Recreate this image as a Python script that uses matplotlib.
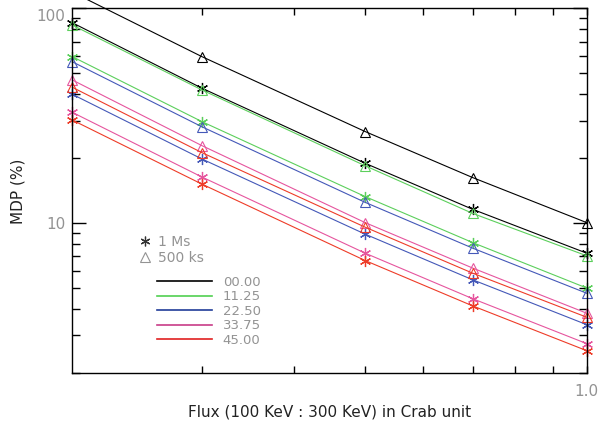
import numpy as np
import matplotlib
matplotlib.use("Agg")
import matplotlib.pyplot as plt
import matplotlib.transforms as mtransforms
from matplotlib.lines import Line2D
from matplotlib.ticker import NullFormatter, FixedLocator, LogLocator

# flux in Crab unit
flux = [0.2, 0.3, 0.5, 0.7, 1.0]

angles = ["00.00", "11.25", "22.50", "33.75", "45.00"]
colors = ["#000000", "#5ccf5c", "#4458b8", "#e6559e", "#ee3c28"]
legend_colors = ["#000000", "#50d050", "#203c98", "#c83c88", "#e02020"]

# MDP (%) for 1 Ms exposure
mdp_1ms = [
    [85.7, 42.5, 19.0, 11.6, 7.25],
    [59.6, 29.7, 13.3, 8.12, 4.99],
    [39.8, 19.9, 8.89, 5.45, 3.37],
    [32.8, 16.4, 7.25, 4.45, 2.75],
    [30.2, 15.2, 6.70, 4.12, 2.55],
]
# MDP (%) for 500 ks exposure
mdp_500ks = [
    [119.0, 59.6, 26.7, 16.3, 10.06],
    [83.6, 41.7, 18.5, 11.1, 7.05],
    [56.4, 28.1, 12.5, 7.65, 4.72],
    [46.4, 22.96, 10.06, 6.18, 3.81],
    [42.9, 21.3, 9.58, 5.85, 3.65],
]

txtgray = "#939393"

fig = plt.figure(figsize=(5.98, 4.21), dpi=100)
ax = fig.add_axes([0.1209, 0.1133, 0.8601, 0.8669])

star = (6, 2, 0)
for i in range(len(angles)):
    ax.plot(flux, mdp_500ks[i], color=colors[i], lw=0.8, marker="^",
            mfc="none", mec=colors[i], ms=7, mew=0.8, clip_on=False)
    ax.plot(flux, mdp_1ms[i], color=colors[i], lw=0.8, marker=star,
            mec=colors[i], ms=8, mew=0.9, clip_on=False)

ax.set_xscale("log")
ax.set_yscale("log")
ax.set_xlim(0.2, 1.0)
ax.set_ylim(2, 100)

ax.xaxis.set_major_locator(FixedLocator([1.0]))
ax.xaxis.set_minor_locator(FixedLocator([0.3, 0.4, 0.5, 0.6, 0.7, 0.8, 0.9]))
ax.set_xticklabels(["1.0"])
ax.xaxis.set_minor_formatter(NullFormatter())

ax.yaxis.set_major_locator(FixedLocator([10, 100]))
ax.yaxis.set_minor_locator(LogLocator(base=10, subs=np.arange(2, 10)))
ax.set_yticklabels(["10", "100"])
ax.yaxis.set_minor_formatter(NullFormatter())

ax.tick_params(which="both", direction="in", top=True, right=True,
               labelsize=11, labelcolor=txtgray, width=1)
ax.tick_params(which="major", length=10)
ax.tick_params(which="minor", length=6)
ax.tick_params(axis="x", which="both", length=5, pad=8)
ax.tick_params(axis="y", pad=5)
for s in ax.spines.values():
    s.set_linewidth(1)

# nudge the top label down a little, like the original
lab100 = ax.get_yticklabels()[1]
lab100.set_transform(lab100.get_transform() +
                     mtransforms.ScaledTranslation(0, -5 / 72, fig.dpi_scale_trans))

ax.set_xlabel("Flux (100 KeV : 300 KeV) in Crab unit", fontsize=11,
              color="#222222", labelpad=4)
ax.set_ylabel("MDP (%)", fontsize=11, color="#222222", labelpad=8)

# exposure legend
h1 = [Line2D([], [], ls="none", marker=star, color="#333333", ms=7, mew=0.9),
      Line2D([], [], ls="none", marker="^", mfc="none", mec=txtgray, ms=7, mew=0.8)]
leg1 = ax.legend(h1, ["1 Ms", "500 ks"], loc="upper left",
                 bbox_to_anchor=(0.12, 0.395), frameon=False, fontsize=10,
                 handlelength=0.8, handletextpad=0.5, labelspacing=0.15,
                 labelcolor=txtgray, borderaxespad=0)
ax.add_artist(leg1)

# angle legend
h2 = [Line2D([], [], color=c, lw=1.2) for c in legend_colors]
ax.legend(h2, angles, loc="upper left", bbox_to_anchor=(0.154, 0.282),
          frameon=False, fontsize=9.5, handlelength=4.2, handletextpad=0.8,
          labelspacing=0.12, labelcolor=txtgray, borderaxespad=0)

fig.savefig("out.png", dpi=100)
